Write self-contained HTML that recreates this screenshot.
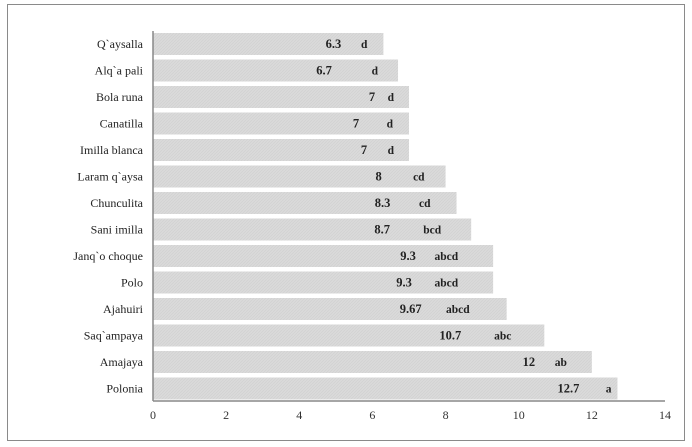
<!DOCTYPE html>
<html><head><meta charset="utf-8"><style>
body{margin:0;background:#fff}
svg{display:block;font-family:"Liberation Serif",serif}
</style></head><body>
<svg id="c" width="692" height="447">
<defs><pattern id="hatch" width="3" height="3" patternUnits="userSpaceOnUse"><rect width="3" height="3" fill="#dadada"/><path d="M0,3L3,0" stroke="#d0d0d0" stroke-width="0.6"/></pattern></defs>
<rect x="7.5" y="4.5" width="677" height="436" fill="#fff" stroke="#8a8a8a"/>
</svg>
<script>
const categories=["Q`aysalla","Alq`a pali","Bola runa","Canatilla","Imilla blanca","Laram q`aysa","Chunculita","Sani imilla","Janq`o choque","Polo","Ajahuiri","Saq`ampaya","Amajaya","Polonia"];
const values=[6.3,6.7,7,7,7,8,8.3,8.7,9.3,9.3,9.67,10.7,12,12.7];
const valueLabels=["6.3","6.7","7","7","7","8","8.3","8.7","9.3","9.3","9.67","10.7","12","12.7"];
const letters=["d","d","d","d","d","cd","cd","bcd","abcd","abcd","abcd","abc","ab","a"];
const ticks=[0,2,4,6,8,10,12,14];
const valOff=[50,74,37,53,45,67,74,89,85,89,96,94,63,49];
const letOff=[16,20,15,16,15,21,26,30,35,35,37,33,25,6];
const svg=document.getElementById('c');
const NS='http://www.w3.org/2000/svg';
const x0=153,x1=665,xs=v=>x0+(x1-x0)*v/14;
const ys=i=>44+i*26.5;
function mk(t,a,p){const e=document.createElementNS(NS,t);for(const k in a)e.setAttribute(k,a[k]);(p||svg).appendChild(e);return e;}
categories.forEach((c,i)=>{
 const y=ys(i);
 const b=mk('rect',{x:x0,y:y-11,width:xs(values[i])-x0,height:22,fill:'url(#hatch)'});
 
 
 const l=mk('text',{x:143,y:y+4,'text-anchor':'end','font-size':12,fill:'#222'});l.textContent=c;
 
 
 const e=xs(values[i]);
 const v=mk('text',{x:e-valOff[i],y:y+4,'text-anchor':'middle','font-size':12.5,'font-weight':'bold',fill:'#222'});v.textContent=valueLabels[i];
 
 
 const g=mk('text',{x:e-letOff[i],y:y+4,'text-anchor':'end','font-size':11.5,'font-weight':'bold',fill:'#222'});g.textContent=letters[i];
 
 
});
const ya=mk('line',{x1:x0,y1:31,x2:x0,y2:401,stroke:'#888','stroke-width':1.5});


const xa=mk('line',{x1:x0,y1:401,x2:x1,y2:401,stroke:'#888','stroke-width':1.5});


ticks.forEach(t=>{
 const tx=mk('text',{x:xs(t),y:419,'text-anchor':'middle','font-size':12,fill:'#333'});tx.textContent=t;
 
 
});
</script>
</body></html>
